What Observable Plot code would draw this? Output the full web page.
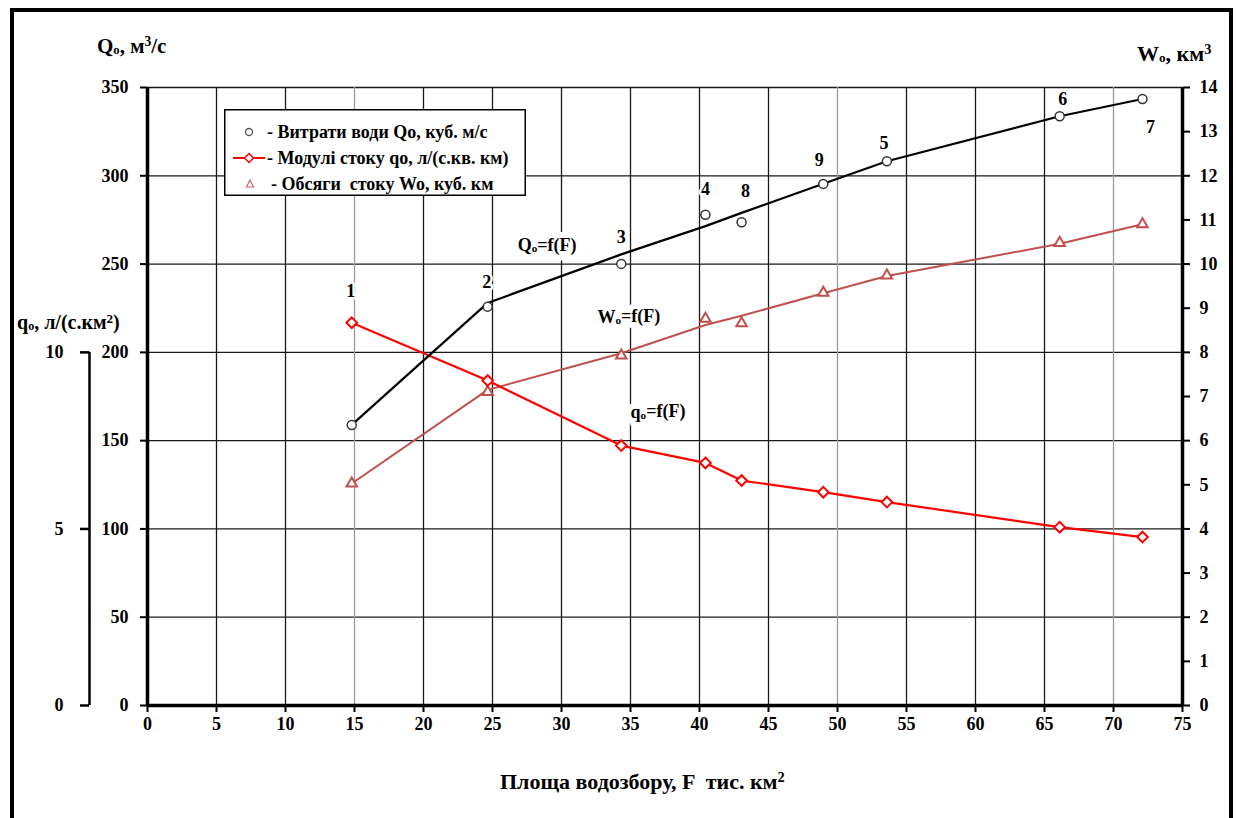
<!DOCTYPE html>
<html>
<head>
<meta charset="utf-8">
<script src="https://cdn.jsdelivr.net/npm/d3@7"></script>
<script src="https://cdn.jsdelivr.net/npm/@observablehq/plot@0.6"></script>
<style>
  html, body { margin: 0; padding: 0; background: #fff; overflow: hidden; }
  #wrap { position: relative; width: 1236px; height: 818px; overflow: hidden;
          font-family: "Liberation Serif", "Times New Roman", serif; font-weight: bold; color: #000; }
  #chart { position: absolute; left: 0; top: 0; }
  #chart > svg { display: block; }
  .frame { position: absolute; left: 10px; top: 8px; width: 1223px; height: 900px;
           border: 4px solid #000; box-sizing: border-box; pointer-events: none; }
  .title { position: absolute; white-space: pre; line-height: 1; }
  .title sub { font-size: 0.6em; vertical-align: baseline; position: relative; top: 0.05em; }
  .title sup { font-size: 0.65em; vertical-align: baseline; position: relative; top: -0.5em; }
  svg#legend { position: absolute; left: 224px; top: 109px; }
  svg#legend text { font-family: "Liberation Serif", "Times New Roman", serif; font-weight: bold;
                    font-size: 18px; white-space: pre; }
</style>
</head>
<body>
<div id="wrap">
  <div id="chart"></div>
  <div class="title" style="left:97px; top:36px; font-size:21px;">Q<sub>o</sub>, м<sup>3</sup>/с</div>
  <div class="title" style="left:1137px; top:43px; font-size:22px;">W<sub>o</sub>, км<sup>3</sup></div>
  <div class="title" style="left:17px; top:312px; font-size:20px;">q<sub>o</sub>, л/(с.км<sup>2</sup>)</div>
  <div class="title" style="left:500px; top:771px; font-size:22px;">Площа водозбору, F  тис. км<sup>2</sup></div>
  <svg id="legend" width="302" height="87">
    <rect x="0.75" y="0.75" width="300.5" height="85.5" fill="#fff" stroke="#000" stroke-width="1.5"></rect>
    <circle cx="25" cy="23" r="3.5" fill="#fff" stroke="#555" stroke-width="1.3"></circle>
    <text x="43" y="23" dy="0.35em">- Витрати води Qo, куб. м/с</text>
    <line x1="9" x2="41" y1="49" y2="49" stroke="#ff0000" stroke-width="2"></line>
    <path d="M25,44.5L29.5,49L25,53.5L20.5,49Z" fill="#fff" stroke="#ff0000" stroke-width="1.5"></path>
    <text x="43" y="49" dy="0.35em">- Модулі стоку qo, л/(с.кв. км)</text>
    <path d="M26,71L29.5,78L22.5,78Z" fill="#fff" stroke="#c86464" stroke-width="1.2"></path>
    <text x="47" y="75" dy="0.35em">- Обсяги  стоку Wo, куб. км</text>
  </svg>
  <div class="frame"></div>
</div>
<script>
// Gauging stations (numbered as on the map) and their catchment areas, thousand km²
const stations = ["1", "2", "3", "4", "8", "9", "5", "6", "7"];
const area = [14.8, 24.65, 34.33, 40.43, 43.05, 48.97, 53.58, 66.1, 72.1];
// Mean discharge Qo, m³/s: observed and smoothed relation Qo = f(F)
const discharge = [158.9, 225.9, 250.1, 277.9, 273.7, 295.4, 308.2, 333.7, 343.5];
const dischargeFit = [158.9, 228, 255.5, 271.5, 279, 295.5, 308.2, 333.7, 343.5];
// Runoff modulus qo, l/(s·km²)
const runoffModule = [10.84, 9.2, 7.36, 6.87, 6.37, 6.04, 5.76, 5.05, 4.77];
// Runoff volume Wo, km³: observed and smoothed relation Wo = f(F)
const runoffVolume = [5.03, 7.1, 7.93, 8.76, 8.66, 9.35, 9.74, 10.48, 10.9];
const runoffVolumeFit = [5.03, 7.15, 7.98, 8.62, 8.83, 9.34, 9.73, 10.46, 10.9];

// Axis ticks
const xTicks = d3.range(0, 76, 5);
const xGridLight = [15, 50, 70];
const qTicksMain = d3.range(0, 351, 50);
const wTicks = d3.range(0, 15, 1);
const moduleTicks = [0, 5, 10];

// Curve captions
const curveNames = ["Qₒ=f(F)", "Wₒ=f(F)", "qₒ=f(F)"];
const curveNameF = [28.96, 34.88, 36.99];
const curveNameQ = [260.5, 219.9, 166.1];

// Secondary scales share the discharge axis: 10 l/(s·km²) ↔ 200 m³/s, 14 km³ ↔ 350 m³/s
const Q_PER_MODULE = 20;
const Q_PER_VOLUME = 25;

// Station number placement around each discharge point (px)
const labelNudge = [[-1, -134], [-1, -24], [0, -27], [0, -26], [4, -31], [-4, -24], [-3, -18], [3, -17], [8, 28]];

const rows = stations.map((s, i) => ({
  station: s, F: area[i],
  Q: discharge[i], Qfit: dischargeFit[i],
  q: runoffModule[i] * Q_PER_MODULE,
  W: runoffVolume[i] * Q_PER_VOLUME, Wfit: runoffVolumeFit[i] * Q_PER_VOLUME
}));
const captions = curveNames.map((t, i) => ({text: t, F: curveNameF[i], Q: curveNameQ[i]}));

const volumeColor = "#c0504d";
const serif = "'Liberation Serif', 'Times New Roman', serif";

// a white halo drawn underneath, then the text itself
const haloText = (data, options, halo) => [
  Plot.text(data, {...options, fill: "white", stroke: "white", strokeWidth: halo, strokeLinejoin: "round"}),
  Plot.text(data, {...options, fill: "#000"})
];

const chart = Plot.plot({
  width: 1236,
  height: 818,
  marginLeft: 147,
  marginRight: 54,
  marginTop: 87,
  marginBottom: 113,
  style: {fontFamily: serif, fontWeight: "bold", fontSize: "18px", background: "transparent", color: "#000"},
  x: {domain: [0, 75]},
  y: {domain: [0, 350]},
  marks: [
    // grid
    Plot.ruleY(qTicksMain.filter(d => d > 0), {stroke: "#1a1a1a", strokeWidth: 1.3}),
    Plot.ruleX(xTicks.filter(d => d > 0 && !xGridLight.includes(d)), {stroke: "#1a1a1a", strokeWidth: 1.3}),
    Plot.ruleX(xGridLight, {stroke: "#9a9a9a", strokeWidth: 1.3}),

    // axes
    Plot.axisX({ticks: xTicks, tickSize: 7, tickPadding: 5, strokeWidth: 2, label: null}),
    Plot.axisY({anchor: "left", ticks: qTicksMain, tickSize: 7, tickPadding: 12, strokeWidth: 2, label: null}),
    Plot.axisY({anchor: "right", ticks: wTicks.map(w => w * Q_PER_VOLUME), tickFormat: d => d / Q_PER_VOLUME,
                tickSize: 7, tickPadding: 10, strokeWidth: 2, label: null}),
    Plot.axisY({anchor: "left", ticks: moduleTicks.map(v => v * Q_PER_MODULE), tickFormat: d => d / Q_PER_MODULE,
                dx: -58, tickSize: 9, tickPadding: 17, strokeWidth: 2.5, label: null}),
    Plot.ruleX([0], {y1: moduleTicks[0] * Q_PER_MODULE, y2: moduleTicks[2] * Q_PER_MODULE, dx: -58, strokeWidth: 2.5}),
    Plot.ruleX([0, 75], {strokeWidth: 3.5}),
    Plot.ruleY([0], {strokeWidth: 3.5}),

    // curve captions on a white halo that masks the grid
    ...haloText(captions, {x: "F", y: "Q", text: "text", fontSize: 18}, 12),

    // relations
    Plot.line(rows, {x: "F", y: "Wfit", stroke: volumeColor, strokeWidth: 2}),
    Plot.line(rows, {x: "F", y: "q", stroke: "#ff0000", strokeWidth: 2.2}),
    Plot.line(rows, {x: "F", y: "Qfit", stroke: "#000", strokeWidth: 2.2}),

    // observations
    Plot.dot(rows, {x: "F", y: "W", symbol: "triangle2", r: 5, fill: "white", stroke: volumeColor, strokeWidth: 2}),
    Plot.dot(rows, {x: "F", y: "q", symbol: "diamond2", r: 4.8, fill: "white", stroke: "#ff0000", strokeWidth: 2}),
    Plot.dot(rows, {x: "F", y: "Q", r: 4.5, fill: "white", stroke: "#333", strokeWidth: 1.5}),

    // station numbers
    ...rows.flatMap((d, i) => haloText([d], {x: "F", y: "Q", text: "station", dx: labelNudge[i][0], dy: labelNudge[i][1],
                                             fontSize: 18}, 5))
  ]
});

// render "ₒ" as a small lowered o
d3.select(chart).selectAll("text").each(function() {
  const t = this.textContent;
  if (!t.includes("ₒ") || this.querySelector("tspan")) return;
  const parts = t.split("ₒ");
  this.textContent = "";
  const sel = d3.select(this);
  parts.forEach((p, i) => {
    if (i > 0) {
      sel.append("tspan").attr("font-size", "0.62em").attr("dy", "0.08em").text("o");
      sel.append("tspan").attr("dy", "-0.08em").text(p);
    } else {
      sel.append("tspan").text(p);
    }
  });
});

document.getElementById("chart").appendChild(chart);
</script>
</body>
</html>
